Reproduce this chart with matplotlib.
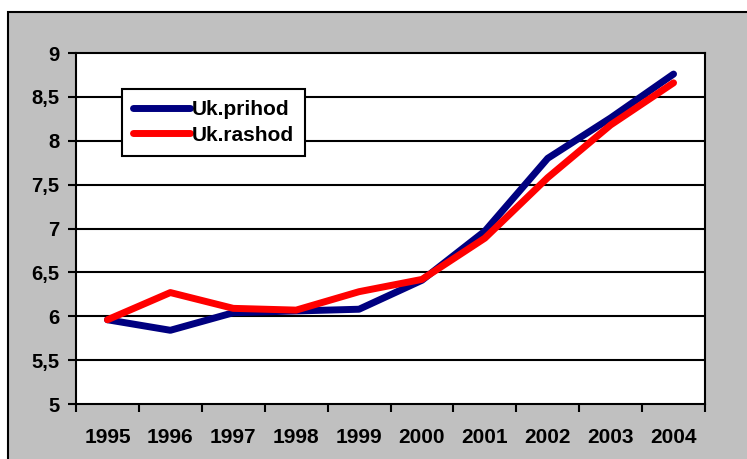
import numpy as np
import matplotlib
matplotlib.use("Agg")
from matplotlib import pyplot as plt
from matplotlib.patches import Rectangle

years = ['1995', '1996', '1997', '1998', '1999', '2000', '2001', '2002', '2003', '2004']
prihod = [5.96, 5.84, 6.04, 6.06, 6.08, 6.41, 6.97, 7.80, 8.26, 8.76]
rashod = [5.96, 6.27, 6.09, 6.07, 6.28, 6.42, 6.89, 7.58, 8.18, 8.66]
yticks = [5, 5.5, 6, 6.5, 7, 7.5, 8, 8.5, 9]
ylabels = ['5', '5,5', '6', '6,5', '7', '7,5', '8', '8,5', '9']

W, H = 747, 459
plt.rcParams['font.family'] = ['Liberation Sans', 'DejaVu Sans']
plt.rcParams['font.weight'] = 'bold'

fig = plt.figure(figsize=(W / 100, H / 100), dpi=100, facecolor='white')

# grey chart area with black border on left and top
bg = Rectangle((8 / W, -0.1), 1.2, 1 - 12 / H + 0.1, transform=fig.transFigure,
               facecolor='#C0C0C0', edgecolor='black', linewidth=1.5, zorder=-10)
fig.patches.append(bg)

ax = fig.add_axes([76 / W, (H - 404) / H, (705 - 76) / W, (404 - 53) / H])
ax.set_facecolor('white')

x = np.arange(len(years)) + 0.5
ax.plot(x, prihod, color='#000080', lw=5, solid_capstyle='round',
        solid_joinstyle='round', label='Uk.prihod', zorder=3)
ax.plot(x, rashod, color='#FF0000', lw=5, solid_capstyle='round',
        solid_joinstyle='round', label='Uk.rashod', zorder=4)

ax.set_xlim(0, len(years))
ax.set_ylim(5, 9)
ax.set_yticks(yticks, labels=ylabels, fontsize=14.5, fontweight='bold')
for yv in yticks[1:-1]:
    ax.axhline(yv, color='black', lw=1.5, zorder=1)

ax.set_xticks(np.arange(len(years) + 1), labels=[''] * (len(years) + 1))
ax.set_xticks(x, labels=years, minor=True, fontsize=15, fontweight='bold')
ax.tick_params(axis='x', which='major', direction='out', length=6, width=1.5)
ax.tick_params(axis='x', which='minor', length=0, pad=17)
ax.tick_params(axis='y', direction='out', length=6, width=1.5, pad=6)

for s in ax.spines.values():
    s.set_linewidth(1.5)

leg = ax.legend(loc='upper left', bbox_to_anchor=(122 / W, 1 - 89 / H),
                bbox_transform=fig.transFigure, borderaxespad=0,
                fancybox=False, framealpha=1, edgecolor='black',
                prop={'size': 15, 'weight': 'bold'}, handlelength=2.7,
                handletextpad=0.1, labelspacing=0.3, borderpad=0.55)
leg.get_frame().set_linewidth(1.5)

fig.savefig('out.png', dpi=100, facecolor='white')
